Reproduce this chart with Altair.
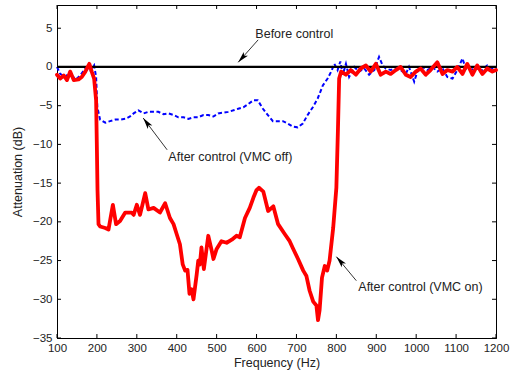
import altair as alt
import pandas as pd

# ---- data ----
red_hz = [100, 108, 117, 125, 133, 142, 154, 162, 171, 177, 181, 187, 193, 198, 200, 201.5, 204, 208, 221, 229,
          240, 248, 258, 271, 287, 292, 300, 308, 321, 329, 342, 358, 371, 383, 392, 400, 408, 415, 421, 427,
          432, 437, 442, 450, 454, 458, 462, 468, 479, 488, 492, 500, 512, 525, 538, 550, 558, 571, 583, 592,
          600, 606, 617, 629, 642, 654, 671, 683, 692, 704, 717, 725, 733, 742, 750, 754, 758, 764, 771, 777,
          783, 792, 800, 804, 807, 812, 824, 836, 849, 861, 874, 886, 899, 911, 924, 936, 949, 961, 974, 986,
          999, 1011, 1024, 1036, 1053, 1066, 1078, 1091, 1103, 1116, 1128, 1141, 1153, 1166, 1178, 1191, 1200]
red_db = [-1.0, -1.5, -1.1, -1.7, -0.6, -1.7, -1.6, -1.3, -0.6, 0.0, 0.4, -0.6, -1.5, -4.3, -10.7, -15.9, -20.3, -20.6, -20.8, -21.0,
          -17.8, -20.3, -19.9, -18.8, -18.8, -19.1, -17.8, -19.1, -16.3, -18.4, -18.2, -18.8, -17.6, -19.5, -20.3, -21.6, -22.9, -25.5, -26.3, -26.2,
          -29.3, -28.7, -30.0, -26.8, -25.0, -25.5, -23.3, -26.1, -21.8, -23.8, -24.8, -23.5, -22.5, -22.7, -22.3, -21.8, -22.0, -19.5, -18.2, -16.9,
          -15.9, -15.6, -16.1, -18.6, -18.0, -20.3, -21.6, -22.5, -23.5, -24.8, -26.3, -27.0, -28.9, -30.3, -30.8, -32.7, -31.4, -27.2, -25.7, -26.3,
          -25.0, -20.8, -15.6, -8.0, -1.5, -0.6, -1.0, -0.4, -1.0, -0.2, 0.2, -0.6, 0.4, -1.0, -0.6, -0.9, -0.4, 0.0, -1.0, -1.3,
          -0.6, -0.2, -1.0, -0.4, 0.6, -0.9, -0.4, -0.6, 0.0, -0.9, 0.4, -1.0, 0.2, -0.9, -0.2, -0.6, -0.4]

blue_hz = [100, 108, 121, 133, 146, 158, 171, 183, 193, 198, 201, 208, 221, 233, 246, 258, 271, 283, 292, 304,
           317, 329, 342, 354, 367, 379, 392, 404, 417, 429, 442, 454, 467, 479, 492, 504, 517, 529, 542, 554,
           567, 579, 592, 603, 616, 628, 641, 653, 666, 678, 691, 703, 716, 728, 741, 753, 766, 778, 787, 795,
           803, 810, 816, 824, 832, 845, 857, 870, 882, 895, 907, 916, 924, 936, 949, 961, 974, 982, 995, 1003,
           1016, 1028, 1041, 1053, 1066, 1078, 1091, 1103, 1116, 1124, 1137, 1149, 1161, 1178, 1191, 1200]
blue_db = [0.0, -0.9, -1.3, -0.6, -1.7, -1.1, -0.2, -0.6, 0.2, -1.3, -5.2, -6.8, -7.2, -7.0, -6.8, -6.8, -6.7, -6.4, -6.0, -5.6,
           -6.0, -5.8, -5.8, -5.8, -6.1, -6.0, -6.2, -6.5, -6.5, -6.7, -6.5, -6.5, -6.2, -6.2, -6.4, -6.0, -5.9, -5.8, -5.6, -5.4,
           -5.2, -4.8, -4.3, -4.3, -5.4, -6.2, -7.0, -7.0, -7.0, -7.3, -7.7, -7.8, -7.3, -6.2, -5.2, -4.1, -2.4, -1.5, -0.6, 0.4,
           -0.4, 0.7, -1.0, 0.4, -1.3, 0.0, -0.6, -0.2, -1.0, -0.4, 1.3, 0.2, -0.2, -0.4, -0.2, -0.4, -0.9, 0.0, -1.9, -0.6,
           0.0, -0.4, 0.0, -0.6, -0.2, -1.3, -1.5, -0.4, 1.1, -0.2, -0.4, 0.0, -0.6, 0.2, -0.2, 0.0]

before_hz = [100, 1200]
before_db = [0, 0]

x_ticks = [100, 200, 300, 400, 500, 600, 700, 800, 900, 1000, 1100, 1200]
y_ticks = [-35, -30, -25, -20, -15, -10, -5, 0, 5]

ann_text = ["Before control", "After control (VMC off)", "After control (VMC on)"]
ann_x = [597, 379, 855]
ann_y = [4.25, -11.6, -28.4]
arrow_x_tail = [604, 376, 850]
arrow_y_tail = [3.5, -10.7, -27.6]
arrow_x_head = [554, 316, 800]
arrow_y_head = [0.6, -6.6, -24.5]
arrow_angle = [222, 323, 319]

# ---- tables ----
red = pd.DataFrame({"f": red_hz, "a": red_db})
blue = pd.DataFrame({"f": blue_hz, "a": blue_db})
before = pd.DataFrame({"f": before_hz, "a": before_db})
ann = pd.DataFrame({"t": ann_text, "f": ann_x, "a": ann_y})
arrows = pd.DataFrame({"f": arrow_x_tail, "a": arrow_y_tail, "f2": arrow_x_head, "a2": arrow_y_head,
                       "ang": arrow_angle})
xt = pd.DataFrame({"f": x_ticks})
yt = pd.DataFrame({"a": y_ticks})

FONT = "Liberation Sans"
W, H = 439, 333
xs = alt.Scale(domain=[100, 1200], nice=False, zero=False)
ys = alt.Scale(domain=[-35, 8], nice=False, zero=False)

xaxis = alt.Axis(values=x_ticks, format="d", title="Frequency (Hz)", ticks=False, labelPadding=4,
                 labelFontSize=11.5, labelColor="#222", titleFontSize=12.5, titleFontWeight="normal",
                 titleColor="#222", titlePadding=3, domainColor="black", grid=False, labelFont=FONT,
                 titleFont=FONT, labelFlush=False)
yaxis = alt.Axis(values=y_ticks, format="d", title="Attenuation (dB)", ticks=False, labelPadding=5,
                 labelFontSize=11.5, labelColor="#222", titleFontSize=12.5, titleFontWeight="normal",
                 titleColor="#222", titlePadding=8, domainColor="black", grid=False, labelFont=FONT,
                 titleFont=FONT)


def X(field):
    return alt.X(field, scale=xs, axis=xaxis)


def Y(field):
    return alt.Y(field, scale=ys, axis=yaxis)


blue_line = alt.Chart(blue).mark_line(color="#0000ff", strokeWidth=2, strokeDash=[4, 2.5]).encode(
    x=X("f:Q"), y=Y("a:Q"))
black_line = alt.Chart(before).mark_line(color="black", strokeWidth=2.2).encode(
    x=X("f:Q"), y=Y("a:Q"))
red_line = alt.Chart(red).mark_line(color="#ff0000", strokeWidth=3.8, strokeJoin="round",
                                    strokeCap="round").encode(
    x=X("f:Q"), y=Y("a:Q"))

tick_len = 4
top_ticks = alt.Chart(xt).mark_rule(color="black", strokeWidth=1).encode(
    x=X("f:Q"), y=alt.value(0), y2=alt.value(tick_len))
bot_ticks = alt.Chart(xt).mark_rule(color="black", strokeWidth=1).encode(
    x=X("f:Q"), y=alt.value(H - tick_len), y2=alt.value(H))
left_ticks = alt.Chart(yt).mark_rule(color="black", strokeWidth=1).encode(
    y=Y("a:Q"), x=alt.value(0), x2=alt.value(tick_len))
right_ticks = alt.Chart(yt).mark_rule(color="black", strokeWidth=1).encode(
    y=Y("a:Q"), x=alt.value(W - tick_len), x2=alt.value(W))

shafts = alt.Chart(arrows).mark_rule(color="black", strokeWidth=0.8).encode(
    x=X("f:Q"), y=Y("a:Q"), x2="f2:Q", y2="a2:Q")
heads = alt.Chart(arrows).mark_point(
    shape="M0,0 L0.5,2 L0,1.55 L-0.5,2 Z", filled=True, color="black", opacity=1, size=130,
    strokeWidth=0).encode(
    x=X("f2:Q"), y=Y("a2:Q"), angle=alt.Angle("ang:Q", scale=None))

texts = alt.Chart(ann).mark_text(align="left", baseline="middle", font=FONT, fontSize=12.5,
                                 color="#222").encode(
    x=X("f:Q"), y=Y("a:Q"), text="t:N")

chart = alt.layer(blue_line, black_line, red_line, top_ticks, bot_ticks, left_ticks, right_ticks,
                  shafts, heads, texts).properties(
    width=W, height=H, padding={"left": 57, "top": 5, "right": 22, "bottom": 33}, autosize="none",
    background="white"
).configure_view(stroke="black", strokeWidth=1)

chart.save("out.html", embed_options={"renderer": "svg", "actions": False})
